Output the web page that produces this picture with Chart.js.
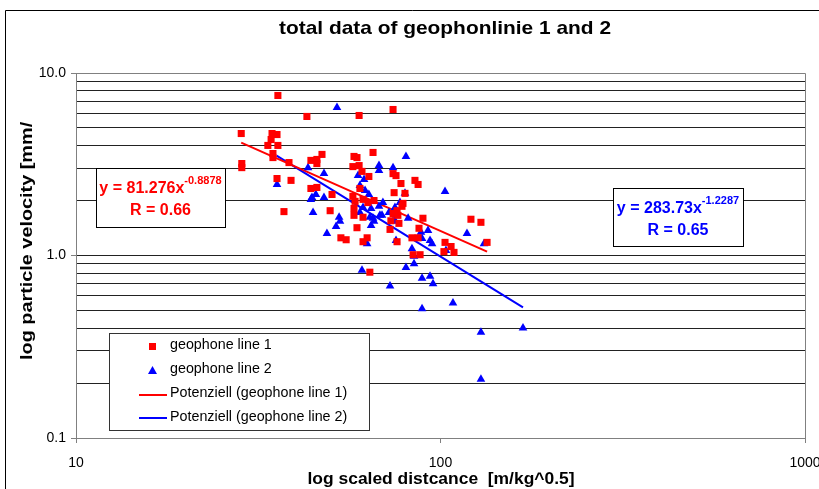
<!DOCTYPE html>
<html>
<head>
<meta charset="utf-8">
<script src="https://cdn.jsdelivr.net/npm/chart.js@4.4.1/dist/chart.umd.min.js"></script>
<style>
  html, body { margin: 0; padding: 0; background: #fff; }
  #wrap { position: relative; width: 819px; height: 489px; }
</style>
</head>
<body>
<div id="wrap"><canvas id="chart" width="819" height="489"></canvas></div>
<script>
// geophone line 1 (red squares): scaled distance / particle velocity
const line1_x = [28.4, 28.5, 28.5, 34.5, 35.6, 34.3, 33.6, 35.8, 34.7, 34.7,
    35.8, 43.0, 59.8, 74.1, 38.4, 47.3, 44.1, 45.8, 45.8, 35.6,
    38.9, 57.9, 59.0, 65.3, 57.5, 59.8, 60.9, 63.6, 74.1, 75.5,
    85.1, 86.8, 77.9, 44.1, 45.8, 60.1, 50.4, 57.5, 58.3, 61.3,
    63.2, 65.7, 74.6, 79.9, 78.9, 78.4, 37.2, 49.8, 57.9, 57.9,
    61.3, 74.1, 76.4, 73.1, 76.9, 76.0, 89.5, 59.0, 121.2, 129.1,
    72.7, 87.3, 53.3, 55.1, 61.3, 62.9, 83.5, 86.8, 76.0, 102.9,
    106.9, 102.2, 108.9, 84.1, 87.9, 134.2, 64.0];
const line1_y = [4.66, 3.19, 3.03, 4.66, 4.60, 4.32, 4.01, 4.01, 3.62, 3.44,
    7.53, 5.78, 5.85, 6.31, 3.23, 3.58, 3.32, 3.36, 3.19, 2.64,
    2.58, 3.49, 3.44, 3.67, 3.07, 3.11, 2.89, 2.71, 2.81, 2.74,
    2.58, 2.45, 2.48, 2.33, 2.36, 2.33, 2.16, 2.11, 1.98, 2.03,
    1.95, 2.00, 2.21, 2.19, 1.93, 1.86, 1.74, 1.76, 1.81, 1.66,
    1.62, 1.70, 1.66, 1.55, 1.50, 1.76, 1.60, 1.42, 1.58, 1.52,
    1.39, 1.41, 1.25, 1.22, 1.19, 1.25, 1.25, 1.25, 1.19, 1.18,
    1.12, 1.05, 1.04, 1.01, 1.01, 1.18, 0.81];

// geophone line 2 (blue triangles)
const line2_x = [52.0, 80.4, 35.6, 43.3, 47.9, 44.4, 45.5, 47.9, 44.1, 44.7,
    59.4, 61.7, 60.1, 62.1, 63.6, 67.8, 67.8, 74.1, 52.7, 53.0,
    51.7, 48.8, 102.9, 79.9, 77.4, 75.0, 60.1, 61.3, 64.5, 67.8,
    69.5, 72.2, 64.0, 65.3, 65.7, 64.5, 68.2, 74.1, 75.0, 81.5,
    69.1, 75.5, 62.9, 88.4, 92.4, 89.0, 93.6, 94.8, 83.5, 84.6,
    84.6, 80.4, 103.5, 118.2, 131.6, 60.9, 89.0, 93.6, 95.4, 72.7,
    108.2, 89.0, 129.1, 168.4, 129.1];
const line2_y = [6.47, 3.49, 2.45, 3.03, 2.81, 2.08, 2.16, 2.08, 2.03, 1.72,
    2.74, 2.61, 2.42, 2.27, 2.16, 3.11, 2.92, 3.03, 1.62, 1.54,
    1.44, 1.32, 2.24, 2.19, 1.95, 1.83, 1.72, 1.83, 1.81, 1.86,
    1.95, 1.72, 1.62, 1.60, 1.54, 1.46, 1.66, 1.54, 1.55, 1.60,
    1.66, 1.21, 1.16, 1.34, 1.37, 1.24, 1.21, 1.16, 1.09, 0.99,
    0.90, 0.86, 1.065, 1.32, 1.16, 0.83, 0.75, 0.77, 0.70, 0.68,
    0.55, 0.51, 0.38, 0.40, 0.21];

// power trend lines (end points)
const fit1_x = [28.4, 134.2];
const fit1_y = [4.15, 1.05];
const fit2_x = [35.5, 168.4];
const fit2_y = [3.53, 0.52];

const y_ticks = [0.1, 0.2, 0.3, 0.4, 0.5, 0.6, 0.7, 0.8, 0.9,
    1, 2, 3, 4, 5, 6, 7, 8, 9, 10];
const y_labels = { 0.1: '0.1', 1: '1.0', 10: '10.0' };
const x_ticks = [10, 100, 1000];

const series_names = ['geophone line 1', 'geophone line 2',
    'Potenziell (geophone line 1)', 'Potenziell (geophone line 2)'];

const FONT = '"Liberation Sans", Arial, sans-serif';
const RED = '#FF0000';
const BLUE = '#0000FF';

const toPoints = (xs, ys) => xs.map((x, i) => ({ x: x, y: ys[i] }));

// draws text stretched along its direction (the original font runs wider)
function wideText(ctx, text, x, y, stretch, align) {
    ctx.save();
    ctx.translate(x, y);
    ctx.scale(stretch, 1);
    ctx.textAlign = align;
    ctx.fillText(text, 0, 0);
    ctx.restore();
}

// text, frame, equation boxes and legend
const decor = {
    id: 'decor',
    afterDraw(chart) {
        const ctx = chart.ctx;
        const area = chart.chartArea;
        ctx.save();

        // plot area border top / right
        ctx.strokeStyle = '#808080';
        ctx.lineWidth = 1;
        ctx.beginPath();
        ctx.moveTo(area.left, area.top + 0.5);
        ctx.lineTo(area.right + 0.5, area.top + 0.5);
        ctx.lineTo(area.right + 0.5, area.bottom);
        ctx.stroke();

        // outer chart frame
        ctx.strokeStyle = '#000';
        ctx.beginPath();
        ctx.moveTo(5.5, 489);
        ctx.lineTo(5.5, 10.5);
        ctx.lineTo(819, 10.5);
        ctx.stroke();

        // title
        ctx.fillStyle = '#000';
        ctx.textBaseline = 'alphabetic';
        ctx.font = 'bold 19px ' + FONT;
        wideText(ctx, 'total data of geophonlinie 1 and 2', 445, 34, 1.1, 'center');

        // x axis title
        ctx.font = 'bold 16px ' + FONT;
        wideText(ctx, 'log scaled distcance  [m/kg^0.5]', 441, 484, 1.09, 'center');

        // y axis title (clipped in the original)
        ctx.save();
        ctx.translate(32, 360);
        ctx.rotate(-Math.PI / 2);
        wideText(ctx, 'log particle velocity [mm/', 0, 0, 1.24, 'left');
        ctx.restore();

        // equation boxes
        function eqBox(x, y, w, h, color, coef, expo, r) {
            ctx.fillStyle = '#fff';
            ctx.fillRect(x, y, w, h);
            ctx.strokeStyle = '#000';
            ctx.strokeRect(x + 0.5, y + 0.5, w, h);
            ctx.fillStyle = color;
            ctx.textAlign = 'left';
            ctx.font = 'bold 16px ' + FONT;
            const main = 'y = ' + coef + 'x';
            const mw = ctx.measureText(main).width;
            ctx.font = 'bold 11px ' + FONT;
            const ew = ctx.measureText(expo).width;
            const x0 = x + w / 2 - (mw + ew) / 2;
            ctx.font = 'bold 16px ' + FONT;
            ctx.fillText(main, x0, y + 25);
            ctx.font = 'bold 11px ' + FONT;
            ctx.fillText(expo, x0 + mw, y + 16);
            ctx.font = 'bold 16px ' + FONT;
            ctx.textAlign = 'center';
            ctx.fillText('R = ' + r, x + w / 2, y + 47);
        }
        eqBox(96, 168, 129, 59, RED, '81.276', '-0.8878', '0.66');
        eqBox(613, 188, 130, 58, BLUE, '283.73', '-1.2287', '0.65');

        // legend
        const lx = 109, ly = 333, lw = 260, lh = 97;
        ctx.fillStyle = '#fff';
        ctx.fillRect(lx, ly, lw, lh);
        ctx.strokeStyle = '#333';
        ctx.strokeRect(lx + 0.5, ly + 0.5, lw, lh);
        ctx.font = '14.3px ' + FONT;
        ctx.textAlign = 'left';
        const rows = [349, 373, 397, 421];
        series_names.forEach((name, i) => {
            ctx.fillStyle = '#000';
            ctx.fillText(name, 170, rows[i]);
        });
        ctx.fillStyle = RED;
        ctx.fillRect(149, 343, 7, 7);
        ctx.fillStyle = BLUE;
        ctx.beginPath();
        ctx.moveTo(152.5, 366);
        ctx.lineTo(157, 374);
        ctx.lineTo(148, 374);
        ctx.closePath();
        ctx.fill();
        ctx.lineWidth = 2;
        ctx.strokeStyle = RED;
        ctx.beginPath();
        ctx.moveTo(139, 395);
        ctx.lineTo(167, 395);
        ctx.stroke();
        ctx.strokeStyle = BLUE;
        ctx.beginPath();
        ctx.moveTo(139, 418);
        ctx.lineTo(167, 418);
        ctx.stroke();

        ctx.restore();
    }
};

new Chart(document.getElementById('chart'), {
    type: 'scatter',
    data: {
        datasets: [
            {
                label: series_names[0],
                data: toPoints(line1_x, line1_y),
                pointStyle: 'rect',
                pointRadius: 5,
                borderWidth: 0,
                backgroundColor: RED,
                borderColor: RED
            },
            {
                label: series_names[1],
                data: toPoints(line2_x, line2_y),
                pointStyle: 'triangle',
                pointRadius: 5,
                borderWidth: 0,
                backgroundColor: BLUE,
                borderColor: BLUE
            },
            {
                label: series_names[2],
                type: 'line',
                data: toPoints(fit1_x, fit1_y),
                showLine: true,
                pointRadius: 0,
                borderWidth: 2,
                borderColor: RED,
                fill: false
            },
            {
                label: series_names[3],
                type: 'line',
                data: toPoints(fit2_x, fit2_y),
                showLine: true,
                pointRadius: 0,
                borderWidth: 2,
                borderColor: BLUE,
                fill: false
            }
        ]
    },
    options: {
        responsive: false,
        animation: false,
        devicePixelRatio: 1,
        layout: { padding: { top: 73, right: 14, left: 0, bottom: 0 } },
        plugins: {
            legend: { display: false },
            title: { display: false },
            tooltip: { enabled: false }
        },
        scales: {
            x: {
                type: 'logarithmic',
                position: 'bottom',
                min: 10,
                max: 1000,
                afterBuildTicks: s => { s.ticks = x_ticks.map(v => ({ value: v })); },
                afterFit: s => { s.height = 51; s.paddingLeft = 0; s.paddingRight = 0; },
                ticks: {
                    autoSkip: false,
                    maxRotation: 0,
                    padding: 12,
                    color: '#000',
                    font: { family: FONT, size: 14 },
                    callback: v => String(v)
                },
                grid: { drawOnChartArea: false, tickLength: 5, color: '#808080' },
                border: { color: '#808080', width: 1 }
            },
            y: {
                type: 'logarithmic',
                min: 0.1,
                max: 10,
                afterBuildTicks: s => { s.ticks = y_ticks.map(v => ({ value: v })); },
                afterFit: s => { s.width = 76; s.paddingTop = 0; s.paddingBottom = 0; },
                ticks: {
                    autoSkip: false,
                    padding: 5,
                    color: '#000',
                    font: { family: FONT, size: 14 },
                    callback: v => y_labels[v] || ''
                },
                grid: {
                    tickLength: 5,
                    color: c => (c.tick && c.tick.value === 10) ? '#808080' : '#222',
                    tickColor: c => (c.tick && y_labels[c.tick.value]) ? '#808080' : 'rgba(0,0,0,0)'
                },
                border: { color: '#808080', width: 1 }
            }
        }
    },
    plugins: [decor]
});
</script>
</body>
</html>
